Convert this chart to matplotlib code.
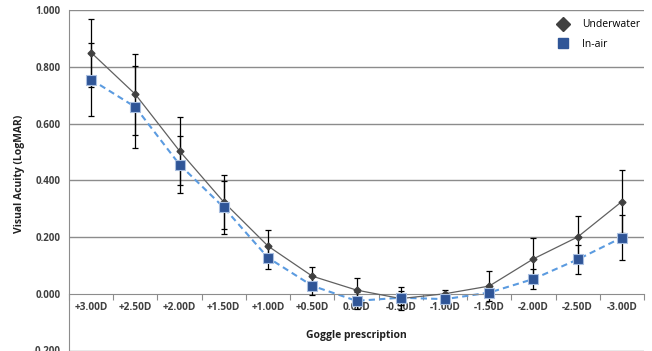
import matplotlib
matplotlib.use("Agg")
import matplotlib.pyplot as plt
from matplotlib.lines import Line2D

categories = ["+3.00D", "+2.50D", "+2.00D", "+1.50D", "+1.00D", "+0.50D", "0.00D",
              "-0.50D", "-1.00D", "-1.50D", "-2.00D", "-2.50D", "-3.00D"]
underwater = [0.850, 0.703, 0.503, 0.323, 0.168, 0.062, 0.013, -0.017, 0.000, 0.027, 0.123, 0.200, 0.325]
underwater_err = [0.120, 0.143, 0.120, 0.095, 0.057, 0.032, 0.044, 0.040, 0.012, 0.053, 0.075, 0.074, 0.110]
inair = [0.755, 0.658, 0.455, 0.304, 0.127, 0.028, -0.025, -0.014, -0.019, 0.004, 0.052, 0.121, 0.198]
inair_err = [0.130, 0.145, 0.100, 0.095, 0.040, 0.033, 0.030, 0.025, 0.012, 0.015, 0.035, 0.050, 0.080]
yticks = [-0.2, 0.0, 0.2, 0.4, 0.6, 0.8, 1.0]

plt.rcParams['font.family'] = ['Open Sans', 'DejaVu Sans']

fig = plt.figure(figsize=(6.52, 3.51), dpi=100)
W, H = 652, 351
ax = fig.add_axes([69 / W, 0.5 / H, 575 / W, 340.5 / H])
ax.set_xlim(-0.5, 12.5)
ax.set_ylim(-0.2, 1.0)
x = list(range(len(categories)))

grid_c = "#8c8c8c"
ax.set_yticks(yticks)
ax.set_yticklabels([f"{v:.3f}" for v in yticks], fontsize=7, fontweight='bold', color="#404040")
for v in yticks:
    if v != 0:
        ax.axhline(v, color=grid_c, lw=1.0, zorder=0)

for s in ['top', 'right']:
    ax.spines[s].set_visible(False)
ax.spines['left'].set_color(grid_c)
ax.spines['bottom'].set_position(('data', 0))
ax.spines['bottom'].set_color(grid_c)
ax.tick_params(axis='y', length=0, pad=6)

ax.set_xticks([i - 0.5 for i in range(len(categories) + 1)])
ax.set_xticklabels([])
ax.tick_params(axis='x', which='major', length=4, color=grid_c, direction='out')
ax.set_xticks(x, minor=True)
ax.set_xticklabels(categories, minor=True, fontsize=7.3, fontweight='bold', color="#404040")
ax.tick_params(axis='x', which='minor', length=0, pad=6)

ax.plot(x, inair, color="#5b9be0", lw=1.5, ls=(0, (3, 2)), zorder=2)
ax.plot(x, underwater, color="#606060", lw=0.9, zorder=3)
ax.errorbar(x, underwater, yerr=underwater_err, fmt='none', ecolor='black', elinewidth=0.9, capsize=2.5, capthick=0.9, zorder=4)
ax.errorbar(x, inair, yerr=inair_err, fmt='none', ecolor='black', elinewidth=0.9, capsize=2.5, capthick=0.9, zorder=4)
ax.plot(x, underwater, ls='none', marker='D', ms=3.5, color="#404040", zorder=5)
ax.plot(x, inair, ls='none', marker='s', ms=7, color="#2f5597", mec="#a9bfe0", mew=0.8, zorder=6)

ax.set_xlabel("Goggle prescription", fontsize=7.5, fontweight='bold', color="#202020")
ax.xaxis.set_label_coords(0.5, 0.06)
ax.set_ylabel("Visual Acuity (LogMAR)", fontsize=7.5, fontweight='bold', color="#202020")
ax.yaxis.set_label_coords(-0.077, 0.52)

handles = [Line2D([], [], ls='none', marker='D', ms=7, color="#404040"),
           Line2D([], [], ls='none', marker='s', ms=7, color="#2f5597")]
ax.legend(handles, ["Underwater", "In-air"], loc='upper right', bbox_to_anchor=(1.01, 1.0),
          frameon=False, fontsize=7.5, handletextpad=0.8, labelspacing=0.8, borderaxespad=0.5)

fig.savefig("out.png", dpi=100)
